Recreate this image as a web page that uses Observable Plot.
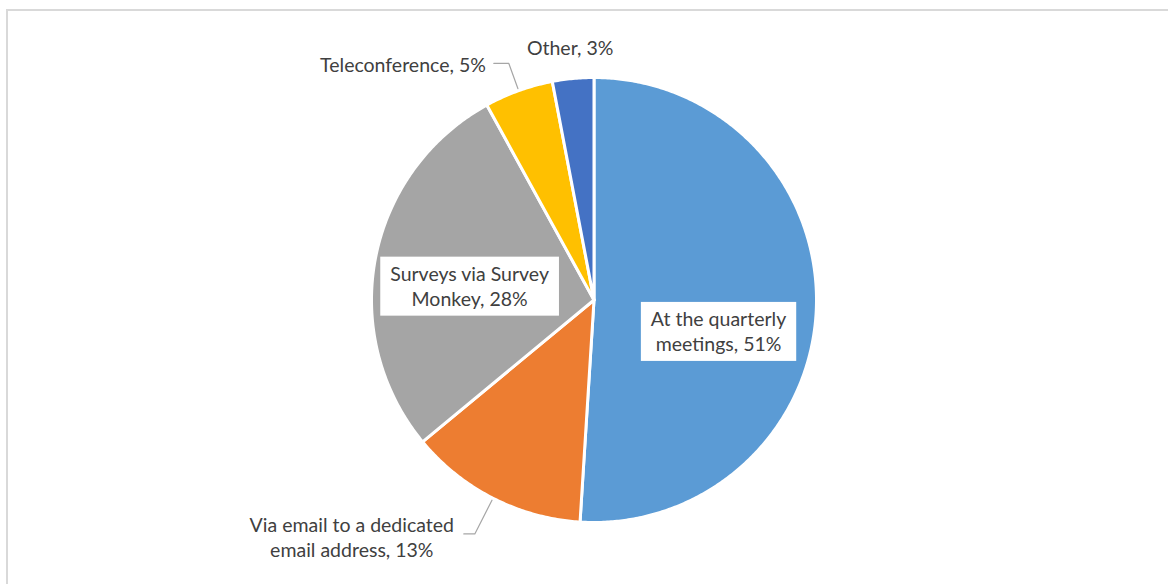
<!DOCTYPE html>
<html><head><meta charset="utf-8">
<script src="https://cdn.jsdelivr.net/npm/d3@7"></script>
<script src="https://cdn.jsdelivr.net/npm/@observablehq/plot@0.6"></script>
<style>
body{margin:0;background:#fff;}
#wrap{position:relative;width:1168px;height:584px;overflow:hidden;}
#border{position:absolute;left:6px;top:9px;width:1200px;height:620px;border:2px solid #d9d9d9;box-sizing:border-box;}
#wrap svg{position:absolute;left:0;top:0;}
</style></head><body><div id="wrap"><div id="border"></div></div>
<script>
// ---- data ----
const categories = ["At the quarterly meetings", "Via email to a dedicated email address", "Surveys via Survey Monkey", "Teleconference", "Other"];
const values = [51, 13, 28, 5, 3];
const colors = ["#5B9BD5", "#ED7D31", "#A5A5A5", "#FFC000", "#4472C4"];
const labelLines = ["At the quarterly\nmeetings, 51%", "Via email to a dedicated\nemail address, 13%", "Surveys via Survey\nMonkey, 28%", "Teleconference, 5%", "Other, 3%"];

// ---- layout ----
const W = 1168, H = 584, cx = 593.5, cy = 299.5, R = 222.5;
const FS = 19.5, LH = 25;
const textColor = "#404040";

const arcs = d3.pie().sort(null).value(d => d)(values);
const mid = arcs.map(a => (a.startAngle + a.endAngle) / 2);
const polar = (t, r) => ({x: r * Math.sin(t), y: r * Math.cos(t)});
// shift a point by pixel offsets (dy positive = down)
const shift = (p, dx, dy) => ({x: p.x + dx / R, y: p.y - dy / R});

const slices = [];
arcs.forEach((a, i) => {
  const n = Math.max(2, Math.ceil((a.endAngle - a.startAngle) / (Math.PI / 360)));
  slices.push({cat: categories[i], x: 0, y: 0});
  for (let k = 0; k <= n; k++) {
    const t = a.startAngle + (a.endAngle - a.startAngle) * k / n;
    slices.push({cat: categories[i], ...polar(t, 1)});
  }
  slices.push({cat: categories[i], x: 0, y: 0});
});

// inside labels (with white boxes)
const inside = [
  {i: 0, r: 0.56, dx: 0, dy: 27},
  {i: 2, r: 0.56, dx: -2, dy: 9}
].map(d => ({i: d.i, ...shift(polar(mid[d.i], d.r), d.dx, d.dy)}));

// outside labels with leader lines
const leaders = [];
const outsideEnd = [], outsideMid = [];
[
  {i: 3, elbowR: 1.13, hook: 15, anchor: "end", dx: -8, dy: 1},
  {i: 1, elbowR: 1.18, hook: 11, anchor: "middle", dx: -112, dy: 2.5}
].forEach(d => {
  const s = polar(mid[d.i], 1.01), e = polar(mid[d.i], d.elbowR);
  const end = shift(e, -d.hook, 0);
  leaders.push({id: d.i, ...s}, {id: d.i, ...e}, {id: d.i, ...end});
  (d.anchor === "end" ? outsideEnd : outsideMid).push({i: d.i, ...shift(end, d.dx, d.dy)});
});
outsideMid.push({i: 4, ...polar(mid[4], 1.14)});

const chart = Plot.plot({
  width: W, height: H, margin: 0,
  x: {domain: [-cx / R, (W - cx) / R], axis: null},
  y: {domain: [-(H - cy) / R, cy / R], axis: null},
  color: {domain: categories, range: colors},
  style: {background: "transparent", fontFamily: "Lato, sans-serif"},
  marks: [
    Plot.line(slices, {x: "x", y: "y", z: "cat", fill: "cat", stroke: "white", strokeWidth: 3, strokeLinejoin: "round"}),
    Plot.line(leaders, {x: "x", y: "y", z: "id", stroke: "#a6a6a6", strokeWidth: 1.2}),
    Plot.text(inside, {x: "x", y: "y", text: d => labelLines[d.i], fontSize: FS, lineHeight: LH / FS, fill: textColor}),
    Plot.text(outsideEnd, {x: "x", y: "y", text: d => labelLines[d.i], textAnchor: "end", fontSize: FS, lineHeight: LH / FS, fill: textColor}),
    Plot.text(outsideMid, {x: "x", y: "y", text: d => labelLines[d.i], textAnchor: "middle", fontSize: FS, lineHeight: LH / FS, fill: textColor})
  ]
});
document.getElementById("wrap").append(chart);

// white boxes behind inside labels
const textGroups = chart.querySelectorAll('g[aria-label="text"]');
if (textGroups.length) {
  textGroups[0].querySelectorAll("text").forEach(t => {
    const b = t.getBBox();
    const padX = 10, padY = 5.5;
    const r = document.createElementNS("http://www.w3.org/2000/svg", "rect");
    r.setAttribute("x", b.x - padX);
    r.setAttribute("y", b.y - padY);
    r.setAttribute("width", b.width + 2 * padX);
    r.setAttribute("height", b.height + 2 * padY);
    r.setAttribute("fill", "white");
    if (t.getAttribute("transform")) r.setAttribute("transform", t.getAttribute("transform"));
    t.parentNode.insertBefore(r, t);
  });
}
</script>
</body></html>
